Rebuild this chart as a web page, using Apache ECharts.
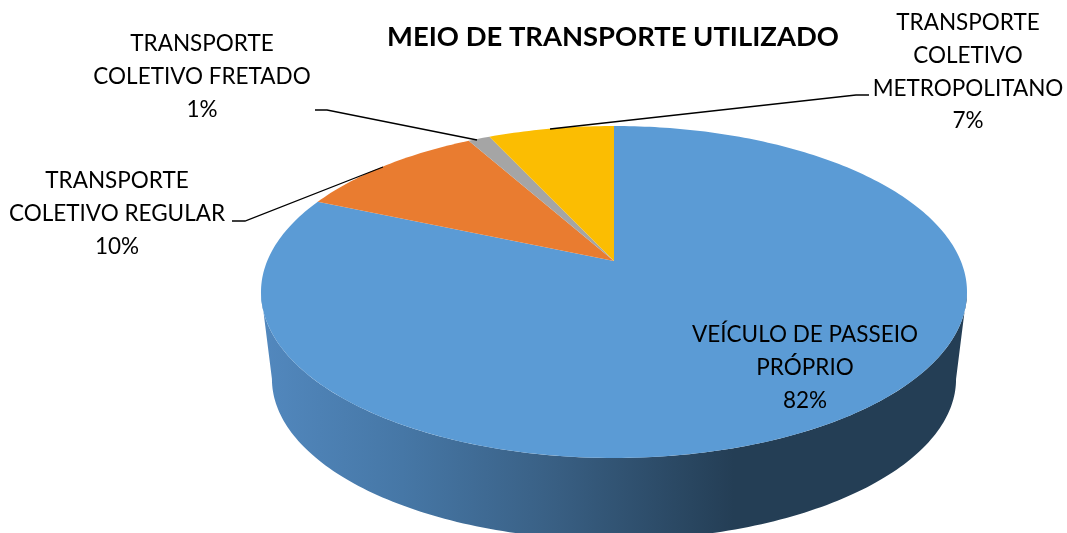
<!DOCTYPE html>
<html>
<head>
<meta charset="utf-8">
<title>Meio de transporte utilizado</title>
<script src="https://cdn.jsdelivr.net/npm/echarts@6/dist/echarts.min.js"></script>
<style>
  html, body { margin: 0; padding: 0; background: #fff; }
  #main { width: 1067px; height: 533px; }
</style>
</head>
<body>
<div id="main"></div>
<script>
var categories = ['VEÍCULO DE PASSEIO\nPRÓPRIO', 'TRANSPORTE\nCOLETIVO REGULAR', 'TRANSPORTE\nCOLETIVO FRETADO', 'TRANSPORTE\nCOLETIVO\nMETROPOLITANO'];
var percents = [81.5, 10.4, 1.2, 6.9];
var colors = ['#5B9BD5', '#E97C30', '#A5A5A5', '#FBBD02'];

// label centres and leader lines, same order as categories
var labelPos = [[805, 367.5], [117, 214], [202, 76.5], [968, 72]];
var leaders = [
  null,
  [[232, 221], [245, 221], [383, 167]],
  [[315, 110], [327, 110], [477, 140]],
  [[869, 95], [856, 95], [550, 129]]
];

// the pie top is a circle seen in perspective: apex and rim come from one projection
var apexX = 614, apexY = 261;
var persp = 0.1867, scaleX = 346.8, scaleY = 160.2;
// base of the wall: top rim shrunk around its ellipse centre and moved down
var rimCenterY = 292, baseCenterY = 379, baseScale = 0.969;
var fontName = 'Lato, Carlito, "Open Sans", sans-serif';

function rimPoint (deg) {
  var t = deg * Math.PI / 180;
  var x = Math.sin(t), y = -Math.cos(t), w = 1 - persp * y;
  return [apexX + scaleX * x / w, apexY + scaleY * y / w];
}
function basePoint (deg) {
  var p = rimPoint(deg);
  return [apexX + (p[0] - apexX) * baseScale, baseCenterY + (p[1] - rimCenterY) * baseScale];
}
function arc (fn, from, to) {
  var pts = [];
  for (var d = from; d < to; d += 1) pts.push(fn(d));
  pts.push(fn(to));
  return pts;
}

var startAngles = [];
percents.reduce(function (sum, v, i) {
  startAngles[i] = sum * 3.6;
  return sum + v;
}, 0);

// the wall shows between the two tangent points of the rim
var wallFrom = Math.acos(-persp) * 180 / Math.PI, wallTo = 360 - wallFrom;
var wallFill = new echarts.graphic.LinearGradient(261, 0, 967, 0, [
  { offset: 0, color: '#5288BE' },
  { offset: 0.2, color: '#4677A6' },
  { offset: 0.4, color: '#3A6186' },
  { offset: 0.67, color: '#243E55' },
  { offset: 1, color: '#243E55' }
], true);

function renderSlice (params, api) {
  var i = params.dataIndex;
  var from = startAngles[i], to = from + api.value(1) * 3.6;
  var children = [];
  var a = Math.max(from, wallFrom), b = Math.min(to, wallTo);
  if (b > a) {
    children.push({
      type: 'polygon',
      shape: { points: arc(rimPoint, a, b).concat(arc(basePoint, a, b).reverse()) },
      style: { fill: wallFill }
    });
  }
  return { type: 'group', children: children };
}
function renderTop (params, api) {
  var i = params.dataIndex;
  var from = startAngles[i], to = from + api.value(1) * 3.6;
  return {
    type: 'polygon',
    shape: { points: [[apexX, apexY]].concat(arc(rimPoint, from, to)) },
    style: { fill: colors[i] }
  };
}
function renderLabel (params, api) {
  var i = params.dataIndex;
  var children = [{
    type: 'text',
    x: labelPos[i][0],
    y: labelPos[i][1],
    style: {
      text: categories[i] + '\n' + Math.round(api.value(1)) + '%',
      font: '22.5px ' + fontName,
      lineHeight: 32.8,
      fill: '#000',
      align: 'center',
      verticalAlign: 'middle'
    }
  }];
  if (leaders[i]) {
    children.push({
      type: 'polyline',
      shape: { points: leaders[i] },
      style: { fill: null, stroke: '#000', lineWidth: 1.3 }
    });
  }
  return { type: 'group', children: children };
}

var seriesData = percents.map(function (v, i) { return [i, v]; });
var myChart = echarts.init(document.getElementById('main'));
myChart.setOption({
  animation: false,
  backgroundColor: '#fff',
  title: {
    text: 'MEIO DE TRANSPORTE UTILIZADO',
    left: 608,
    top: 32,
    textAlign: 'center',
    textVerticalAlign: 'middle',
    textStyle: { fontFamily: fontName, fontSize: 27.4, fontWeight: 'bold', color: '#000' }
  },
  series: [
    { type: 'custom', coordinateSystem: 'none', renderItem: renderSlice, data: seriesData, silent: true },
    { type: 'custom', coordinateSystem: 'none', renderItem: renderTop, data: seriesData, silent: true },
    { type: 'custom', coordinateSystem: 'none', renderItem: renderLabel, data: seriesData, silent: true }
  ]
});
</script>
</body>
</html>
